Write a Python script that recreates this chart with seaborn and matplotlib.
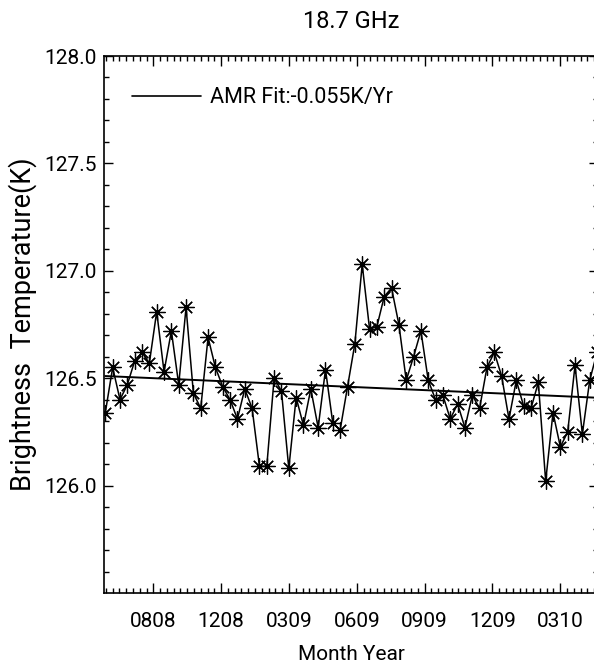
import numpy as np
import pandas as pd
import matplotlib
matplotlib.use("Agg")
import matplotlib.pyplot as plt
import seaborn as sns
from matplotlib.ticker import FixedLocator, FixedFormatter
from matplotlib.lines import Line2D

# Brightness temperature samples (K), one every 10 days
tb = [126.34, 126.55, 126.40, 126.47, 126.58, 126.62, 126.57, 126.81, 126.53, 126.72,
      126.47, 126.83, 126.43, 126.36, 126.69, 126.55, 126.46, 126.40, 126.31, 126.45,
      126.36, 126.09, 126.09, 126.50, 126.44, 126.08, 126.41, 126.28, 126.45, 126.27,
      126.54, 126.29, 126.26, 126.46, 126.66, 127.03, 126.73, 126.74, 126.88, 126.92,
      126.75, 126.49, 126.60, 126.72, 126.49, 126.40, 126.42, 126.31, 126.38, 126.27,
      126.42, 126.36, 126.55, 126.62, 126.51, 126.31, 126.49, 126.37, 126.36, 126.48,
      126.02, 126.34, 126.18, 126.25, 126.56, 126.24, 126.49, 126.62]
sample_step_days = 10

# Linear trend
fit_slope = -0.055      # K per year
fit_start = 126.51      # K at the first sample

# Month-year labels of the major x ticks
month_labels = ["0808", "1208", "0309", "0609", "0909", "1209", "0310"]

days = np.arange(len(tb)) * sample_step_days
df = pd.DataFrame({"day": days, "tb": tb,
                   "fit": fit_start + fit_slope * days / 365.25})

sns.set_style("white")
plt.rcParams["font.family"] = ["Roboto", "DejaVu Sans"]
plt.rcParams["text.color"] = "black"
plt.rcParams["axes.labelcolor"] = "black"
plt.rcParams["xtick.color"] = "black"
plt.rcParams["ytick.color"] = "black"

fig = plt.figure(figsize=(5.94, 6.69), dpi=100)
W, H = 594, 669
ax_l, ax_r, ax_t, ax_b = 104, 598, 56, 593
ax = fig.add_axes([ax_l / W, 1 - ax_b / H, (ax_r - ax_l) / W, (ax_b - ax_t) / H])

sns.lineplot(data=df, x="day", y="tb", ax=ax, color="black", linewidth=1.1,
             marker=(8, 2, 0), markersize=11.5, markeredgewidth=0.9,
             markeredgecolor="black", markerfacecolor="black")
sns.lineplot(data=df, x="day", y="fit", ax=ax, color="black", linewidth=1.4)

ax.set_xlim(-1.8, 671.3)
ax.set_ylim(125.5, 128.0)

# tick layout
major_first, major_step = 65.4, 92.4
major_pos = [major_first + k * major_step for k in range(len(month_labels))]
minor_pos = [major_first + k * major_step / 10 for k in range(-7, 70)
             if k % 10 != 0]
ax.xaxis.set_major_locator(FixedLocator(major_pos))
ax.xaxis.set_major_formatter(FixedFormatter(month_labels))
ax.xaxis.set_minor_locator(FixedLocator(minor_pos))
ax.set_yticks([126.0, 126.5, 127.0, 127.5, 128.0])
ax.set_yticklabels(["126.0", "126.5", "127.0", "127.5", "128.0"])
ax.yaxis.set_minor_locator(FixedLocator(np.arange(125.6, 128.0, 0.1)))

ax.tick_params(which="both", direction="in", top=True, right=True,
               bottom=True, left=True, color="black", width=1.0)
ax.tick_params(axis="x", which="major", length=7.2, pad=14, labelsize=15)
ax.tick_params(axis="x", which="minor", length=3.3)
ax.tick_params(axis="y", which="major", length=6.5, pad=5, labelsize=15)
ax.tick_params(axis="y", which="minor", length=3.6)

for s in ax.spines.values():
    s.set_visible(True)
    s.set_color("black")
    s.set_linewidth(1.2)

ax.set_xlabel("Month Year", fontsize=15, labelpad=10)
ax.set_ylabel("Brightness  Temperature(K)", fontsize=19.5)
ax.yaxis.set_label_coords(-0.135, 0.5)
ax.set_title("18.7 GHz", fontsize=17, pad=20)

handle = Line2D([], [], color="black", linewidth=1.2)
ax.legend([handle], [f"AMR Fit:{fit_slope:.3f}K/Yr"], loc="center left",
          bbox_to_anchor=((132 - ax_l) / (ax_r - ax_l), (ax_b - 98) / (ax_b - ax_t)),
          frameon=False, fontsize=15.5, handlelength=3.2, handletextpad=0.4,
          borderpad=0, borderaxespad=0)

fig.savefig("out.png", dpi=100)
